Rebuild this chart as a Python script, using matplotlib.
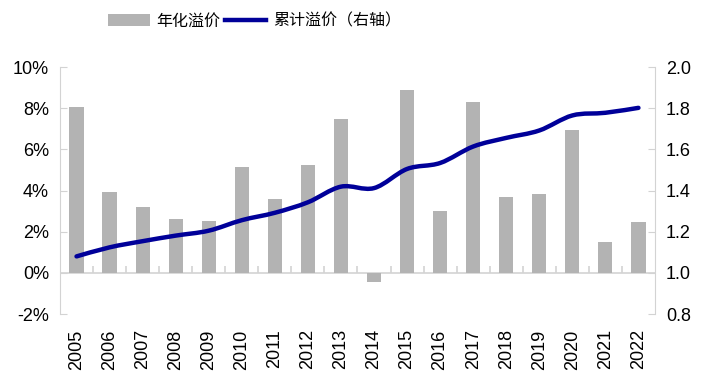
import numpy as np
import matplotlib
matplotlib.use('Agg')
import matplotlib.pyplot as plt
from matplotlib.path import Path
from matplotlib.patches import PathPatch, Patch
from matplotlib.lines import Line2D

plt.rcParams['font.family'] = ['Liberation Sans', 'Noto Sans CJK SC']
plt.rcParams['axes.unicode_minus'] = False

#DATA
years = ['2005', '2006', '2007', '2008', '2009', '2010', '2011', '2012', '2013',
         '2014', '2015', '2016', '2017', '2018', '2019', '2020', '2021', '2022']
annual_premium = [8.04, 3.95, 3.21, 2.61, 2.53, 5.15, 3.57, 5.26, 7.50,
                  -0.45, 8.91, 3.02, 8.30, 3.70, 3.85, 6.93, 1.48, 2.48]
cum_premium = [1.080, 1.124, 1.154, 1.181, 1.205, 1.256, 1.292, 1.343, 1.419,
               1.412, 1.505, 1.534, 1.614, 1.656, 1.692, 1.765, 1.778, 1.802]

bar_color = '#b3b3b3'
line_color = '#000099'
axis_color = '#d3d3d3'

fig = plt.figure(figsize=(7.11, 3.87), dpi=100)
ax = fig.add_axes([0.0844, 0.1886, 0.8368, 0.638])
ax2 = ax.twinx()

x = np.arange(len(years))
ax.bar(x, annual_premium, width=0.43, color=bar_color, zorder=2)

#SMOOTH LINE (CATMULL-ROM AS BEZIER) ON RIGHT AXIS
pts = np.column_stack([x, cum_premium]).astype(float)
verts = [pts[0]]
codes = [Path.MOVETO]
n = len(pts)
for i in range(n - 1):
    p0 = pts[i - 1] if i > 0 else pts[i]
    p1 = pts[i]
    p2 = pts[i + 1]
    p3 = pts[i + 2] if i + 2 < n else pts[i + 1]
    verts += [p1 + (p2 - p0) / 6, p2 - (p3 - p1) / 6, p2]
    codes += [Path.CURVE4] * 3
ax2.add_patch(PathPatch(Path(verts, codes), fill=False, edgecolor=line_color,
                        lw=3.2, capstyle='round', zorder=3))

ax.set_xlim(-0.5, len(years) - 0.5)
ax.set_ylim(-2, 10)
ax2.set_ylim(0.8, 2.0)

ax.set_yticks(np.arange(-2, 11, 2))
ax.set_yticklabels([f'{v}%' for v in range(-2, 11, 2)])
ax2.set_yticks(np.arange(0.8, 2.01, 0.2))
ax2.set_yticklabels([f'{v:.1f}' for v in np.arange(0.8, 2.01, 0.2)])

ax.set_xticks(x)
ax.set_xticklabels(years, rotation=90)

for a in (ax, ax2):
    for s in a.spines.values():
        s.set_visible(False)
ax.spines['left'].set_visible(True)
ax.spines['left'].set_color(axis_color)
ax2.spines['right'].set_visible(True)
ax2.spines['right'].set_color(axis_color)

ax.tick_params(axis='y', direction='in', length=5, color=axis_color,
               labelsize=13, pad=8)
ax2.tick_params(axis='y', direction='in', length=5, color=axis_color,
                labelsize=13, pad=8)
ax.tick_params(axis='x', length=0, labelsize=13, pad=11)

#ZERO LINE WITH CATEGORY SEPARATOR TICKS
ax.axhline(0, color=axis_color, lw=1.2, zorder=1)
ax.vlines(np.arange(0.5, len(years) - 1), 0, 0.33, color=axis_color, lw=1.2, zorder=1)

handles = [Patch(facecolor=bar_color, edgecolor='none'),
           Line2D([0], [0], color=line_color, lw=3.2)]
fig.legend(handles, ['年化溢价', '累计溢价（右轴）'], loc='center',
           bbox_to_anchor=(0.358, 0.945), ncol=2, frameon=False, fontsize=11.5,
           handlelength=2.6, handleheight=0.8, handletextpad=0.4,
           columnspacing=0.3)

fig.savefig('out.png', dpi=100)
